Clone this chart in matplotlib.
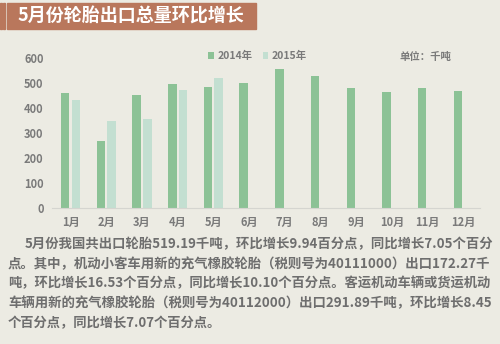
import matplotlib.pyplot as plt
from matplotlib.patches import Rectangle
import numpy as np

plt.rcParams['font.family'] = ['Noto Sans CJK SC', 'DejaVu Sans']

months = ['1月', '2月', '3月', '4月', '5月', '6月', '7月', '8月', '9月', '10月', '11月', '12月']
y2014 = [462, 269, 453, 495, 486, 502, 556, 530, 482, 463, 480, 469]
y2015 = [432, 347, 356, 473, 519]
yticks = [0, 100, 200, 300, 400, 500, 600]

title = '5月份轮胎出口总量环比增长'
unit = '单位：千吨'
para = [
    '5月份我国共出口轮胎519.19千吨，环比增长9.94百分点，同比增长7.05个百分',
    '点。其中，机动小客车用新的充气橡胶轮胎（税则号为40111000）出口172.27千',
    '吨，环比增长16.53个百分点，同比增长10.10个百分点。客运机动车辆或货运机动',
    '车辆用新的充气橡胶轮胎（税则号为40112000）出口291.89千吨，环比增长8.45',
    '个百分点，同比增长7.07个百分点。',
]

bg = '#ecebe3'
c14 = '#8cc296'
c15 = '#c3dfd1'
gray = '#7a7a7a'

W, H = 500, 344
fig = plt.figure(figsize=(5, 3.44), dpi=100, facecolor=bg)

# title banner
for x0, w in [(0, 1.5), (3, 2)]:
    fig.patches.append(Rectangle((x0 / W, 1 - 29 / H), w / W, 26 / H,
                                 transform=fig.transFigure, color='#b9775c'))
fig.patches.append(Rectangle((7 / W, 1 - 29 / H), 249 / W, 26 / H,
                             transform=fig.transFigure, color='#b9775c'))
fig.text(17 / W, 1 - 16 / H, title, color='white', fontsize=13,
         fontweight='bold', va='center', ha='left')

ax = fig.add_axes([52 / W, 1 - 207.7 / H, 428.4 / W, 149.4 / H])
ax.set_facecolor(bg)
x = np.arange(len(months))
w = 0.24
ax.bar(x - 0.15, y2014, w, color=c14, label='2014年')
ax.bar(x[:len(y2015)] + 0.15, y2015, w, color=c15, label='2015年')
ax.set_xlim(-0.52, 11.48)
ax.set_ylim(0, 600)
ax.set_xticks(x)
ax.set_xticklabels(months)
ax.set_yticks(yticks)
for s in ['top', 'right', 'left']:
    ax.spines[s].set_visible(False)
ax.spines['bottom'].set_color('#d5d5d0')
ax.tick_params(length=0, colors=gray, labelsize=8)
ax.tick_params(axis='x', pad=6)
ax.tick_params(axis='y', pad=6)
for t in ax.get_xticklabels() + ax.get_yticklabels():
    t.set_fontweight('bold')

leg = ax.legend(loc='center left', bbox_to_anchor=(199 / W, 1 - 56 / H),
                bbox_transform=fig.transFigure, ncol=2, frameon=False,
                handlelength=0.55, handleheight=0.55, handletextpad=0.3,
                columnspacing=1.0, fontsize=7.5)
for t in leg.get_texts():
    t.set_color(gray)
    t.set_fontweight('bold')

fig.text(399 / W, 1 - 57 / H, unit, color=gray, fontsize=7.5,
         fontweight='bold', va='center', ha='left')

# paragraph, sized so that the full lines span the text block
texts = []
for i, line in enumerate(para):
    x0 = 25 if i == 0 else 8
    texts.append(fig.text(x0 / W, 1 - (244 + i * 19.7) / H, line, color='#6e6e6e',
                          fontsize=10, fontweight='bold', va='center', ha='left'))
r = fig.canvas.get_renderer()
for i, t in enumerate(texts[:4]):
    x0 = 25 if i == 0 else 8
    wd = t.get_window_extent(r).width
    t.set_fontsize(10 * (492 - x0) / wd)
fs = min(t.get_fontsize() for t in texts[1:4])
texts[4].set_fontsize(fs)

fig.savefig('out.png', dpi=100, facecolor=bg)
